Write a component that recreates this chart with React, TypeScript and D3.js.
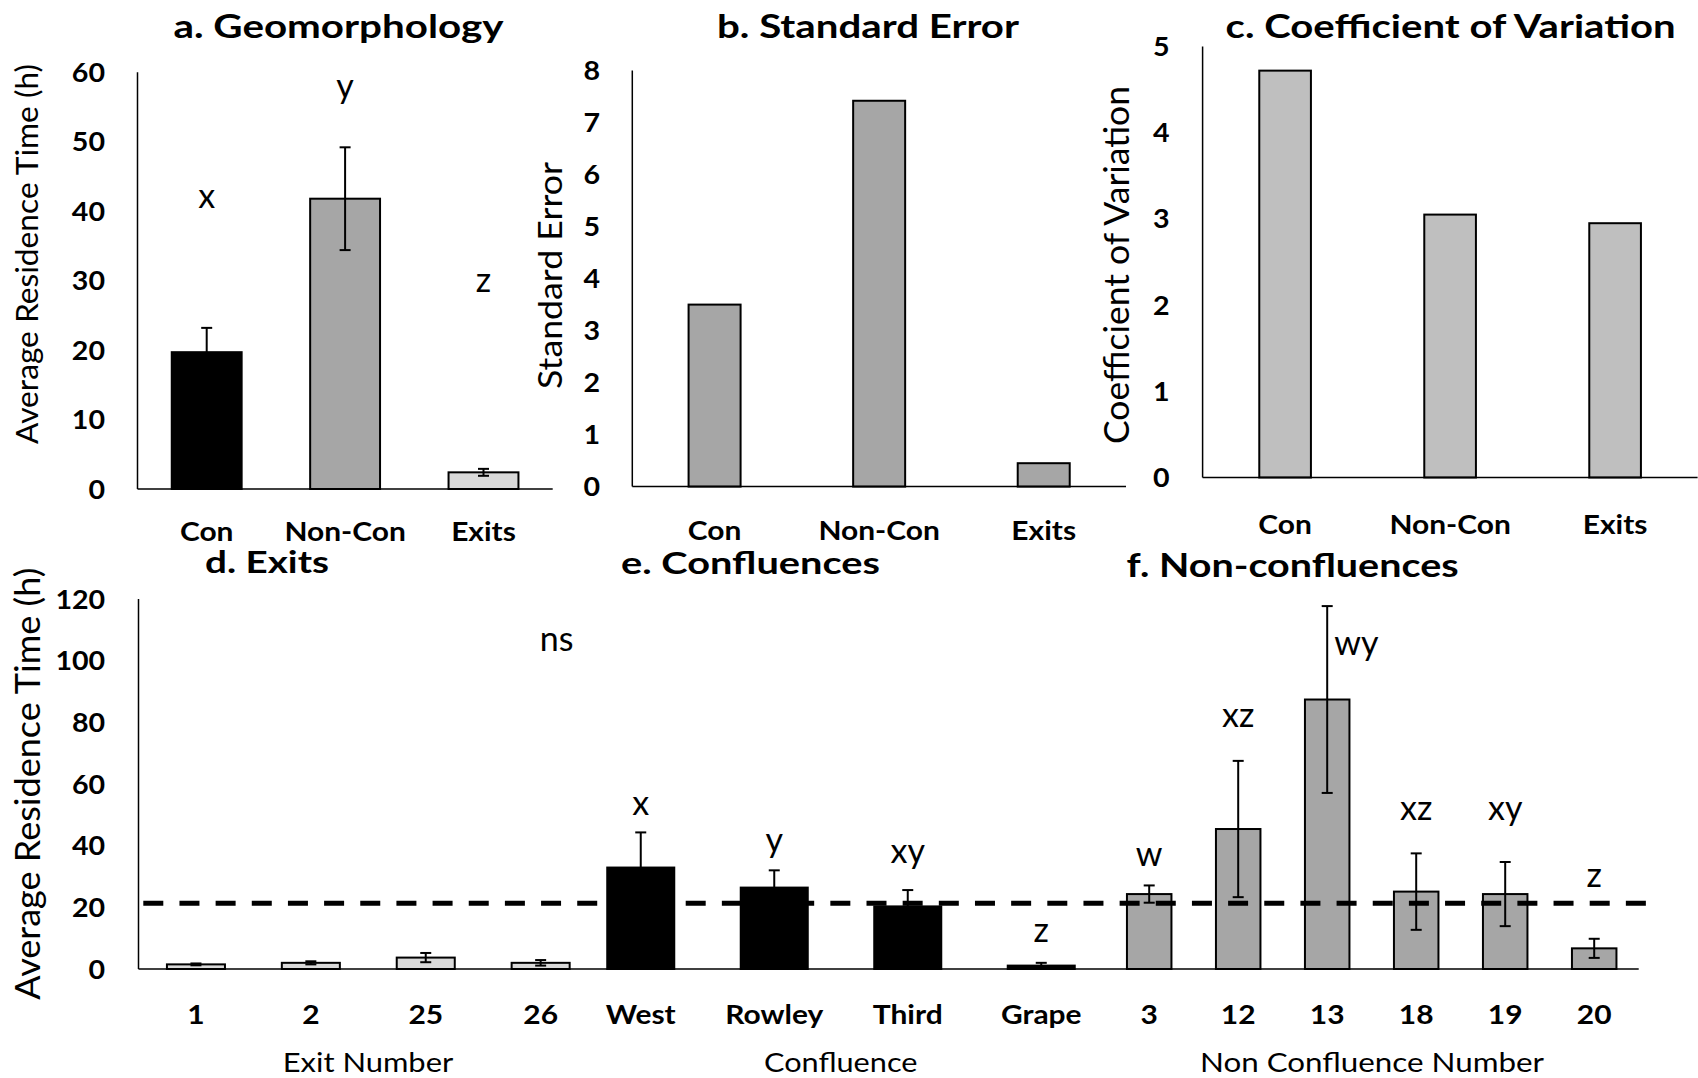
import React from 'react';
import * as d3 from 'd3';

// ---- data ----
const geoCats = ['Con', 'Non-Con', 'Exits'];
const geoMeans = [19.7, 41.8, 2.4];
const geoErrs = [3.5, 7.4, 0.5];
const geoLetters = ['x', 'y', 'z'];
const geoLetterY = [40.4, 56.3, 28.3];
const geoTicks = [0, 10, 20, 30, 40, 50, 60];

const seValues = [3.5, 7.42, 0.45];
const seTicks = [0, 1, 2, 3, 4, 5, 6, 7, 8];

const cvValues = [4.72, 3.05, 2.95];
const cvTicks = [0, 1, 2, 3, 4, 5];

const exitCats = ['1', '2', '25', '26'];
const exitMeans = [1.5, 2.0, 3.7, 2.0];
const exitErrs = [0.3, 0.5, 1.5, 0.9];

const confCats = ['West', 'Rowley', 'Third', 'Grape'];
const confMeans = [32.9, 26.4, 20.3, 1.1];
const confErrs = [11.4, 5.6, 5.3, 0.9];
const confLetters = ['x', 'y', 'xy', 'z'];
const confLetterY = [50.1, 38, 34.5, 8.9];

const nonCats = ['3', '12', '13', '18', '19', '20'];
const nonMeans = [24.3, 45.4, 87.4, 25.1, 24.3, 6.7];
const nonErrs = [2.8, 22.1, 30.3, 12.4, 10.4, 3.1];
const nonLetters = ['w', 'xz', 'wy', 'xz', 'xy', 'z'];
const nonLetterY = [33.4, 78.5, 101.8, 48.4, 48.4, 26.7];

const bottomTicks = [0, 20, 40, 60, 80, 100, 120];
const overallMean = 21.3;
const exitsNote = 'ns';
const exitsNoteY = 103;

const FONT = 'Lato, Carlito, Calibri, sans-serif';
const SX = 1.13;

const Txt = ({ x, y, size, weight = 'bold', anchor = 'middle', sx = SX, children }: any) => (
  <text
    transform={`translate(${x},${y}) scale(${sx},1)`}
    textAnchor={anchor}
    fontSize={size}
    fontWeight={weight}
    fontFamily={FONT}
    fill="#000"
  >
    {children}
  </text>
);

const Fit = ({ x, y, size, len, weight = 'bold', rotate = false, children }: any) => (
  <text
    transform={`translate(${x},${y})${rotate ? ' rotate(-90)' : ''}`}
    textAnchor="middle"
    fontSize={size}
    fontWeight={weight}
    fontFamily={FONT}
    textLength={len}
    lengthAdjust="spacingAndGlyphs"
    fill="#000"
  >
    {children}
  </text>
);

const Bars = ({ x, y, cats, vals, fill }: any) => (
  <g>
    {cats.map((c: string, i: number) => (
      <rect
        key={c}
        x={x(c)}
        y={y(vals[i])}
        width={x.bandwidth()}
        height={y(0) - y(vals[i])}
        fill={Array.isArray(fill) ? fill[i] : fill}
        stroke="#000"
        strokeWidth={2}
      />
    ))}
  </g>
);

const ErrBars = ({ x, y, cats, vals, errs }: any) => (
  <g stroke="#000" strokeWidth={2}>
    {cats.map((c: string, i: number) => {
      const cx = x(c) + x.bandwidth() / 2;
      const top = y(vals[i] + errs[i]);
      const bot = y(Math.max(0, vals[i] - errs[i]));
      return (
        <g key={c}>
          <line x1={cx} x2={cx} y1={top} y2={bot} />
          <line x1={cx - 5.5} x2={cx + 5.5} y1={top} y2={top} />
          <line x1={cx - 5.5} x2={cx + 5.5} y1={bot} y2={bot} />
        </g>
      );
    })}
  </g>
);

const Letters = ({ x, y, cats, letters, ly, vals, errs }: any) => (
  <g>
    {cats.map((c: string, i: number) => {
      const cx = x(c) + x.bandwidth() / 2;
      // letters that would sit on an error bar are moved to its right
      const clash = ly[i] < vals[i] + errs[i];
      return (
        <Txt key={c} x={clash ? cx + 7 : cx} y={y(ly[i])} size={34} weight="normal" sx={1} anchor={clash ? 'start' : 'middle'}>
          {letters[i]}
        </Txt>
      );
    })}
  </g>
);

const YTicks = ({ y, ticks, right }: any) => (
  <g>
    {ticks.map((t: number) => (
      <Txt key={t} x={right} y={y(t) + 9.5} size={26} anchor="end" sx={1.1}>
        {t}
      </Txt>
    ))}
  </g>
);

const CatLabels = ({ x, cats, base }: any) => (
  <g>
    {cats.map((c: string) => (
      <Txt key={c} x={x(c) + x.bandwidth() / 2} y={base} size={26.5}>
        {c}
      </Txt>
    ))}
  </g>
);

export default function App() {
  // top row
  const yA = d3.scaleLinear().domain([0, 60]).range([489, 72.3]);
  const xA = d3.scaleBand().domain(geoCats).range([137.5, 552.7]).paddingInner(0.495).paddingOuter(0.2475);
  const yB = d3.scaleLinear().domain([0, 8]).range([486.6, 70.6]);
  const xB = d3.scaleBand().domain(geoCats).range([632.3, 1126]).paddingInner(0.684).paddingOuter(0.342);
  const yC = d3.scaleLinear().domain([0, 5]).range([477.5, 46.5]);
  const xC = d3.scaleBand().domain(geoCats).range([1202.6, 1697.6]).paddingInner(0.687).paddingOuter(0.3435);

  // bottom row
  const yD = d3.scaleLinear().domain([0, 120]).range([969, 599]);
  const xD = d3.scaleBand().domain(exitCats).range([138.5, 598.1]).paddingInner(0.495).paddingOuter(0.2475);
  const xE = d3.scaleBand().domain(confCats).range([574, 1108]).paddingInner(0.498).paddingOuter(0.249);
  const xF = d3.scaleBand().domain(nonCats).range([1104.7, 1638.7]).paddingInner(0.5).paddingOuter(0.25);

  const meanLine = d3.line()([
    [143.3, yD(overallMean)],
    [1646, yD(overallMean)],
  ]);

  return (
    <svg
      width={1698}
      height={1078}
      style={{ position: 'absolute', left: 0, top: 0, background: '#fff' }}
    >
      {/* a. Geomorphology */}
      <Fit x={338.5} y={38} size={32} len={330}>a. Geomorphology</Fit>
      <Fit x={37.5} y={254} size={31} len={380} weight="normal" rotate>Average Residence Time (h)</Fit>
      <YTicks y={yA} ticks={geoTicks} right={105} />
      <Bars x={xA} y={yA} cats={geoCats} vals={geoMeans} fill={['#000', '#a6a6a6', '#d9d9d9']} />
      <ErrBars x={xA} y={yA} cats={geoCats} vals={geoMeans} errs={geoErrs} />
      <Letters x={xA} y={yA} cats={geoCats} letters={geoLetters} ly={geoLetterY} vals={geoMeans} errs={geoErrs} />
      <g stroke="#000" strokeWidth={1.5}>
        <line x1={xA.range()[0]} x2={xA.range()[0]} y1={yA(60)} y2={yA(0)} />
        <line x1={xA.range()[0]} x2={xA.range()[1]} y1={yA(0)} y2={yA(0)} />
      </g>
      <CatLabels x={xA} cats={geoCats} base={541} />

      {/* b. Standard Error */}
      <Fit x={868} y={38} size={32} len={302}>b. Standard Error</Fit>
      <Fit x={562} y={275.5} size={32} len={227} weight="normal" rotate>Standard Error</Fit>
      <YTicks y={yB} ticks={seTicks} right={600} />
      <Bars x={xB} y={yB} cats={geoCats} vals={seValues} fill="#a6a6a6" />
      <g stroke="#000" strokeWidth={1.5}>
        <line x1={xB.range()[0]} x2={xB.range()[0]} y1={yB(8)} y2={yB(0)} />
        <line x1={xB.range()[0]} x2={xB.range()[1]} y1={yB(0)} y2={yB(0)} />
      </g>
      <CatLabels x={xB} cats={geoCats} base={540} />

      {/* c. Coefficient of Variation */}
      <Fit x={1450.6} y={38} size={32} len={450}>c. Coefficient of Variation</Fit>
      <Fit x={1128.8} y={265} size={34} len={358} weight="normal" rotate>Coefficient of Variation</Fit>
      <YTicks y={yC} ticks={cvTicks} right={1169.5} />
      <Bars x={xC} y={yC} cats={geoCats} vals={cvValues} fill="#bfbfbf" />
      <g stroke="#000" strokeWidth={1.5}>
        <line x1={xC.range()[0]} x2={xC.range()[0]} y1={yC(5)} y2={yC(0)} />
        <line x1={xC.range()[0]} x2={xC.range()[1]} y1={yC(0)} y2={yC(0)} />
      </g>
      <CatLabels x={xC} cats={geoCats} base={534} />

      {/* bottom row: d, e, f share one value axis */}
      <Fit x={40.2} y={783.7} size={34} len={432} weight="normal" rotate>Average Residence Time (h)</Fit>
      <YTicks y={yD} ticks={bottomTicks} right={105.2} />

      <Fit x={267} y={573} size={31} len={124}>d. Exits</Fit>
      <Fit x={750.5} y={574} size={31} len={259}>e. Confluences</Fit>
      <Fit x={1292.6} y={577} size={33} len={332}>f. Non-confluences</Fit>

      <Bars x={xD} y={yD} cats={exitCats} vals={exitMeans} fill="#d9d9d9" />
      <ErrBars x={xD} y={yD} cats={exitCats} vals={exitMeans} errs={exitErrs} />
      <Txt x={xD('26')! + xD.bandwidth() / 2 + 16} y={yD(exitsNoteY)} size={34} weight="normal" sx={1}>
        {exitsNote}
      </Txt>

      <Bars x={xE} y={yD} cats={confCats} vals={confMeans} fill="#000" />
      <ErrBars x={xE} y={yD} cats={confCats} vals={confMeans} errs={confErrs} />
      <Letters x={xE} y={yD} cats={confCats} letters={confLetters} ly={confLetterY} vals={confMeans} errs={confErrs} />

      <Bars x={xF} y={yD} cats={nonCats} vals={nonMeans} fill="#a6a6a6" />
      <ErrBars x={xF} y={yD} cats={nonCats} vals={nonMeans} errs={nonErrs} />
      <Letters x={xF} y={yD} cats={nonCats} letters={nonLetters} ly={nonLetterY} vals={nonMeans} errs={nonErrs} />

      <path d={meanLine!} stroke="#000" strokeWidth={5} strokeDasharray="20 16.16" fill="none" />

      <g stroke="#000" strokeWidth={1.5}>
        <line x1={xD.range()[0]} x2={xD.range()[0]} y1={yD(120)} y2={yD(0)} />
        <line x1={xD.range()[0]} x2={xF.range()[1]} y1={yD(0)} y2={yD(0)} />
      </g>

      <CatLabels x={xD} cats={exitCats} base={1024} />
      <CatLabels x={xE} cats={confCats} base={1024} />
      <CatLabels x={xF} cats={nonCats} base={1024} />

      <Fit x={368} y={1072} size={26.5} len={170.5} weight="normal">Exit Number</Fit>
      <Fit x={840.7} y={1072} size={26.5} len={153.5} weight="normal">Confluence</Fit>
      <Fit x={1372} y={1072} size={26.5} len={344} weight="normal">Non Confluence Number</Fit>
    </svg>
  );
}
